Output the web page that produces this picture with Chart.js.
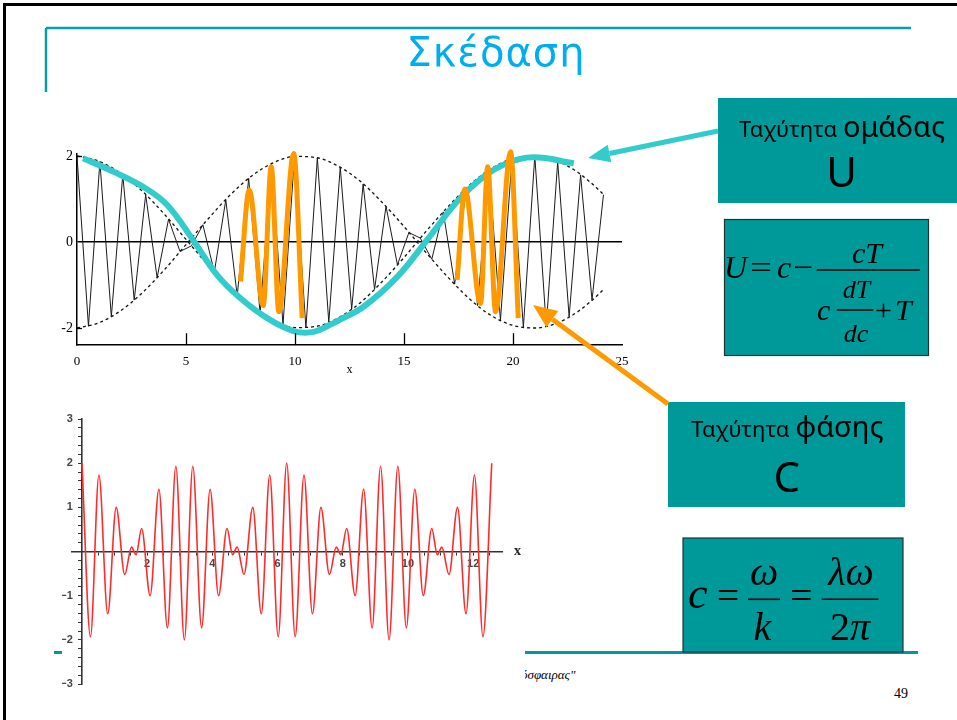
<!DOCTYPE html>
<html lang="el">
<head>
<meta charset="UTF-8">
<title>Σκέδαση</title>
<script src="https://cdn.jsdelivr.net/npm/chart.js"></script>
<style>
  html, body { margin: 0; padding: 0; background: #fff; }
  #slide { position: relative; width: 957px; height: 720px; overflow: hidden; background: #fff; }
  .layer { position: absolute; left: 0; top: 0; }
  #wavePacket { position: absolute; left: 30px; top: 140px; z-index: 1; }
  #beats { position: absolute; left: 62px; top: 405px; z-index: 1; background: #fff; }
</style>
</head>
<body>
<div id="slide">

  <!-- under the charts: footer rule, footer text, page number -->
  <svg class="layer" width="957" height="720" style="z-index:0">
    <line x1="54" y1="652.5" x2="918" y2="652.5" stroke="#009999" stroke-width="3"/>
    <text x="521" y="679" font-family="Liberation Serif" font-style="italic" font-size="13">όσφαιρας"</text>
    <text x="894" y="698" font-family="Liberation Serif" font-size="14">49</text>
  </svg>

  <canvas id="wavePacket" width="610" height="245"></canvas>
  <canvas id="beats" width="463" height="295"></canvas>

  <!-- over the charts: frame, title, boxes, formulas, arrows -->
  <svg class="layer" width="957" height="720" style="z-index:2">
    <rect x="4.5" y="4.5" width="960" height="730" fill="none" stroke="#000" stroke-width="3"/>
    <line x1="46" y1="28" x2="911" y2="28" stroke="#0A9E9E" stroke-width="2.5"/>
    <line x1="46" y1="28" x2="46" y2="92" stroke="#0A9E9E" stroke-width="2.5"/>
    <text x="496" y="66" text-anchor="middle" font-family="DejaVu Sans" font-size="40" fill="#00AEEF" letter-spacing="1">Σκέδαση</text>

    <!-- group velocity -->
    <rect x="718" y="98" width="245" height="105" fill="#009999"/>
    <text x="842" y="137" text-anchor="middle" font-family="Noto Sans" fill="#000"><tspan font-size="22">Ταχύτητα </tspan><tspan font-size="29">ομάδας</tspan></text>
    <text x="841.5" y="187" text-anchor="middle" font-family="Noto Sans" font-size="42" fill="#000">U</text>

    <rect x="724.5" y="219.5" width="204" height="136" fill="#009999" stroke="#1d3535" stroke-width="1.2"/>
    <g font-family="Liberation Serif" fill="#000">
      <text x="724" y="278" font-size="32" font-style="italic">U</text>
      <text x="750" y="278" font-size="32" textLength="22" lengthAdjust="spacingAndGlyphs">=</text>
      <text x="777" y="278" font-size="32" font-style="italic">c</text>
      <text x="793" y="278" font-size="32" textLength="20" lengthAdjust="spacingAndGlyphs">−</text>
      <line x1="816.7" y1="270" x2="920" y2="270" stroke="#000" stroke-width="1.5"/>
      <text x="867" y="263" font-size="30" font-style="italic" text-anchor="middle">cT</text>
      <text x="817" y="320" font-size="30" font-style="italic">c</text>
      <text x="856.5" y="298" font-size="26" font-style="italic" text-anchor="middle">dT</text>
      <line x1="836.7" y1="310" x2="873.3" y2="310" stroke="#000" stroke-width="1.3"/>
      <text x="856" y="341.5" font-size="26" font-style="italic" text-anchor="middle">dc</text>
      <text x="875" y="320" font-size="30">+</text>
      <text x="895" y="320" font-size="30" font-style="italic">T</text>
    </g>

    <!-- phase velocity -->
    <rect x="668" y="402" width="237" height="105" fill="#009999"/>
    <text x="787.5" y="437" text-anchor="middle" font-family="Noto Sans" fill="#000"><tspan font-size="22">Ταχύτητα </tspan><tspan font-size="29">φάσης</tspan></text>
    <text x="786.7" y="492" text-anchor="middle" font-family="Noto Sans" font-size="42" fill="#000">C</text>

    <rect x="683" y="538" width="220" height="114" fill="#009999" stroke="#1d3535" stroke-width="1.2"/>
    <g font-family="Liberation Serif" fill="#000" font-size="40">
      <text x="688" y="608" font-style="italic" font-size="44">c</text>
      <text x="716.7" y="609">=</text>
      <line x1="748" y1="599.3" x2="780" y2="599.3" stroke="#000" stroke-width="1.6"/>
      <text x="764" y="585" font-style="italic" text-anchor="middle">ω</text>
      <text x="762.5" y="640" font-style="italic" text-anchor="middle">k</text>
      <text x="790" y="609">=</text>
      <line x1="821.7" y1="599.3" x2="878.3" y2="599.3" stroke="#000" stroke-width="1.6"/>
      <text x="851" y="585" font-style="italic" text-anchor="middle">λω</text>
      <text x="850" y="640" text-anchor="middle">2<tspan font-style="italic">π</tspan></text>
    </g>

    <!-- arrows -->
    <line x1="718" y1="131" x2="609.5" y2="153.5" stroke="#33CCCC" stroke-width="5"/>
    <polygon points="588,158 607.7,144.7 611.3,162.3" fill="#33CCCC"/>
    <line x1="668" y1="404" x2="552.3" y2="319.2" stroke="#FF9900" stroke-width="5"/>
    <polygon points="533,305 546.4,327.3 558.2,311.1" fill="#FF9900"/>
  </svg>
</div>

<script>
// ---- wave packet (upper plot) ----
// carrier extremes
const CARRIER_X = [0, 0.525, 1.05, 1.575, 2.1, 2.625, 3.15, 3.675, 4.2, 4.725, 5.25, 5.775, 6.3, 6.825, 7.35, 7.875,
  8.4, 8.925, 9.45, 9.975, 10.5, 11.025, 11.55, 12.075, 12.6, 13.125, 13.65, 14.175, 14.7, 15.225, 15.75, 16.275,
  16.8, 17.325, 17.85, 18.375, 18.9, 19.425, 19.95, 20.475, 21.0, 21.525, 22.05, 22.575, 23.1, 23.625, 24.15];
const CARRIER_Y = [2.00, -1.96, 1.87, -1.74, 1.56, -1.35, 1.10, -0.83, 0.53, -0.22, -0.09, 0.40, -0.70, 0.98, -1.25, 1.48,
  -1.67, 1.82, -1.93, 1.99, -2.00, 1.96, -1.87, 1.74, -1.56, 1.35, -1.10, 0.83, -0.53, 0.22, 0.09, -0.40,
  0.70, -0.98, 1.25, -1.48, 1.67, -1.82, 1.93, -1.99, 2.00, -1.96, 1.87, -1.74, 1.56, -1.35, 1.10];

// dashed envelopes
const ENV_X = [0, 1, 2, 3, 4, 5, 6, 7, 8, 9, 10, 11, 12, 13, 14, 15, 16, 17, 18, 19, 20, 21, 22, 23, 24, 24.15];
const ENV_UPPER = [2.00, 1.88, 1.60, 1.18, 0.65, 0.06, -0.53, -1.08, -1.53, -1.84, -1.99, -1.96, -1.76, -1.41, -0.92, -0.36,
  0.24, 0.81, 1.32, 1.71, 1.94, 2.00, 1.89, 1.61, 1.18, 1.10];
const ENV_LOWER = [-2.00, -1.88, -1.60, -1.18, -0.65, -0.06, 0.53, 1.08, 1.53, 1.84, 1.99, 1.96, 1.76, 1.41, 0.92, 0.36,
  -0.24, -0.81, -1.32, -1.71, -1.94, -2.00, -1.89, -1.61, -1.18, -1.10];

// group curve (cyan)
const GROUP_X = [0.28, 1.69, 3.14, 4.14, 5.36, 6.43, 7.5, 8.72, 9.94, 10.86, 11.63, 12.09, 13.16, 14.69, 16.06, 17.44, 18.66, 19.73, 20.95, 22.79];
const GROUP_Y = [1.95, 1.63, 1.25, 0.86, 0.02, -0.77, -1.31, -1.77, -2.07, -2.09, -1.92, -1.80, -1.50, -0.81, 0.05, 0.94, 1.52, 1.83, 1.97, 1.83];

// highlighted wave crests (orange)
const PHASE_A_X = [7.5, 7.9, 8.54, 8.91, 9.26, 9.94, 10.33];
const PHASE_A_Y = [-0.92, 1.21, -1.48, 1.75, -1.62, 2.06, -1.77];
const PHASE_B_X = [17.44, 17.79, 18.51, 18.84, 19.2, 19.89, 20.24];
const PHASE_B_Y = [-0.88, 1.23, -1.43, 1.75, -1.62, 2.10, -1.77];

const TOP_X_TICKS = [0, 5, 10, 15, 20, 25];
const TOP_Y_TICKS = [-2, 0, 2];
const TOP_X_MARKS = [5, 10, 15, 20];

// ---- beats (lower plot) ----
const BEAT_X = [0.00, 0.26, 0.52, 0.79, 1.05, 1.31, 1.52, 1.66, 1.83, 2.09, 2.36, 2.62, 2.88, 3.14, 3.40, 3.67, 3.93,
  4.19, 4.45, 4.62, 4.76, 4.97, 5.24, 5.50, 5.76, 6.02, 6.28, 6.54, 6.81, 7.07, 7.33, 7.59, 7.80, 7.94, 8.12,
  8.38, 8.64, 8.90, 9.16, 9.42, 9.69, 9.95, 10.21, 10.47, 10.73, 10.90, 11.04, 11.26, 11.52, 11.78, 12.04, 12.30, 12.57];
const BEAT_Y = [2.00, -1.93, 1.73, -1.41, 1.00, -0.52, 0.10, -0.07, 0.52, -1.00, 1.41, -1.73, 1.93, -2.00, 1.93, -1.73, 1.41,
  -1.00, 0.52, -0.07, 0.10, -0.52, 1.00, -1.41, 1.73, -1.93, 2.00, -1.93, 1.73, -1.41, 1.00, -0.52, 0.10, -0.07, 0.52,
  -1.00, 1.41, -1.73, 1.93, -2.00, 1.93, -1.73, 1.41, -1.00, 0.52, -0.07, 0.10, -0.52, 1.00, -1.41, 1.73, -1.93, 2.00];

const BOTTOM_X_LABELS = [2, 4, 6, 8, 10, 12];
const BOTTOM_Y_LABELS = [-3, -2, -1, 1, 2, 3];

const pts = (xs, ys) => xs.map((x, i) => ({ x: x, y: ys[i] }));

// short tick marks pointing into the plot
const innerTicks = {
  id: 'innerTicks',
  afterDatasetsDraw(chart, args, opts) {
    if (!opts.x) return;
    const { ctx, scales: { x, y } } = chart;
    ctx.save();
    ctx.strokeStyle = '#000';
    ctx.lineWidth = 1.3;
    opts.x.forEach(v => {
      const px = Math.round(x.getPixelForValue(v)) + 0.5;
      ctx.beginPath(); ctx.moveTo(px, y.bottom); ctx.lineTo(px, y.bottom - 12); ctx.stroke();
    });
    opts.y.forEach(v => {
      const py = Math.round(y.getPixelForValue(v)) + 0.5;
      ctx.beginPath(); ctx.moveTo(x.left, py); ctx.lineTo(x.left + 5, py); ctx.stroke();
    });
    ctx.restore();
  }
};

// "x" written at the end of a centred axis
const axisName = {
  id: 'axisName',
  afterDraw(chart, args, opts) {
    if (!opts.text) return;
    const { ctx, scales: { x, y } } = chart;
    ctx.save();
    ctx.font = 'bold 14px "Liberation Serif"';
    ctx.fillStyle = '#222';
    ctx.textAlign = 'center';
    ctx.textBaseline = 'middle';
    ctx.fillText(opts.text, x.right + 15, y.getPixelForValue(0));
    ctx.restore();
  }
};

const serif = { family: '"Liberation Serif", "Times New Roman", serif', size: 13 };

new Chart(document.getElementById('wavePacket'), {
  type: 'line',
  data: {
    datasets: [
      { data: pts(PHASE_A_X, PHASE_A_Y), borderColor: '#FF9900', borderWidth: 5, cubicInterpolationMode: 'monotone', clip: 12 },
      { data: pts(PHASE_B_X, PHASE_B_Y), borderColor: '#FF9900', borderWidth: 5, cubicInterpolationMode: 'monotone', clip: 12 },
      { data: pts(GROUP_X, GROUP_Y), borderColor: '#33CCCC', borderWidth: 6, tension: 0.4, clip: 12 },
      { data: pts(CARRIER_X, CARRIER_Y), borderColor: '#1a1a1a', borderWidth: 1, tension: 0, clip: 12 },
      { data: pts(ENV_X, ENV_UPPER), borderColor: '#111', borderWidth: 1.3, borderDash: [3, 3], cubicInterpolationMode: 'monotone', clip: 12 },
      { data: pts(ENV_X, ENV_LOWER), borderColor: '#111', borderWidth: 1.3, borderDash: [3, 3], cubicInterpolationMode: 'monotone', clip: 12 }
    ]
  },
  options: {
    responsive: false,
    animation: false,
    devicePixelRatio: 1,
    layout: { padding: { top: 13.85, right: 18, left: 0, bottom: 0 } },
    elements: { point: { radius: 0 } },
    plugins: {
      legend: { display: false },
      tooltip: { enabled: false },
      innerTicks: { x: TOP_X_MARKS, y: [2, -2] }
    },
    scales: {
      x: {
        type: 'linear', min: 0, max: 25,
        afterFit: s => { s.height = 39.8; },
        afterBuildTicks: s => { s.ticks = TOP_X_TICKS.map(v => ({ value: v })); },
        grid: { display: false, drawTicks: false },
        border: { display: true, color: '#000', width: 1.5 },
        ticks: { padding: 9, font: serif, color: '#000', maxRotation: 0, autoSkip: false },
        title: { display: true, text: 'x', font: { family: serif.family, size: 12 }, color: '#000', padding: { top: 0, bottom: 8 } }
      },
      y: {
        type: 'linear', min: -2.4, max: 2.05,
        afterFit: s => { s.width = 47; },
        afterBuildTicks: s => { s.ticks = TOP_Y_TICKS.map(v => ({ value: v })); },
        grid: {
          drawTicks: false,
          color: c => (c.tick && c.tick.value === 0 ? '#000' : 'rgba(0,0,0,0)'),
          lineWidth: 1.5
        },
        border: { display: true, color: '#000', width: 1.5 },
        ticks: { padding: 4, font: { family: serif.family, size: 14 }, color: '#000', autoSkip: false, callback: v => String(v) }
      }
    }
  },
  plugins: [innerTicks]
});

const sansBold = { family: '"Liberation Sans", Arial, sans-serif', size: 11, weight: 'bold' };

new Chart(document.getElementById('beats'), {
  type: 'line',
  data: {
    datasets: [
      { data: pts(BEAT_X, BEAT_Y), borderColor: '#ff2b2b', borderWidth: 1.6, cubicInterpolationMode: 'monotone', clip: 6 }
    ]
  },
  options: {
    responsive: false,
    animation: false,
    devicePixelRatio: 1,
    layout: { padding: { top: 14, right: 22.5, left: 10.2, bottom: 16 } },
    elements: { point: { radius: 0 } },
    plugins: {
      legend: { display: false },
      tooltip: { enabled: false },
      axisName: { text: 'x' }
    },
    scales: {
      x: {
        type: 'linear', position: { y: 0 }, min: -0.3, max: 12.9,
        afterBuildTicks: s => {
          const t = [];
          for (let i = 1; i <= 25; i++) t.push({ value: i / 2 });
          s.ticks = t;
        },
        grid: { drawOnChartArea: false, tickLength: 3, color: '#333' },
        border: { display: true, color: '#333', width: 1.6 },
        ticks: { padding: 3, font: sansBold, color: '#444', maxRotation: 0, autoSkip: false,
          callback: v => (BOTTOM_X_LABELS.includes(v) ? String(v) : '') }
      },
      y: {
        type: 'linear', position: { x: 0 }, min: -3, max: 3,
        afterBuildTicks: s => {
          const t = [];
          for (let i = -15; i <= 15; i++) t.push({ value: i / 5 });
          s.ticks = t;
        },
        grid: { drawOnChartArea: false, tickLength: 3, color: '#333' },
        border: { display: true, color: '#333', width: 1.6 },
        // labels sit right-aligned on the axis line; trailing spaces push them clear of it
        ticks: { font: sansBold, color: '#444', autoSkip: false,
          callback: v => {
            const r = Math.round(v);
            return (Math.abs(v - r) < 1e-6 && BOTTOM_Y_LABELS.includes(r)) ? String(r).replace('-', '−') + '   ' : '';
          } }
      }
    }
  },
  plugins: [axisName]
});
</script>
</body>
</html>
